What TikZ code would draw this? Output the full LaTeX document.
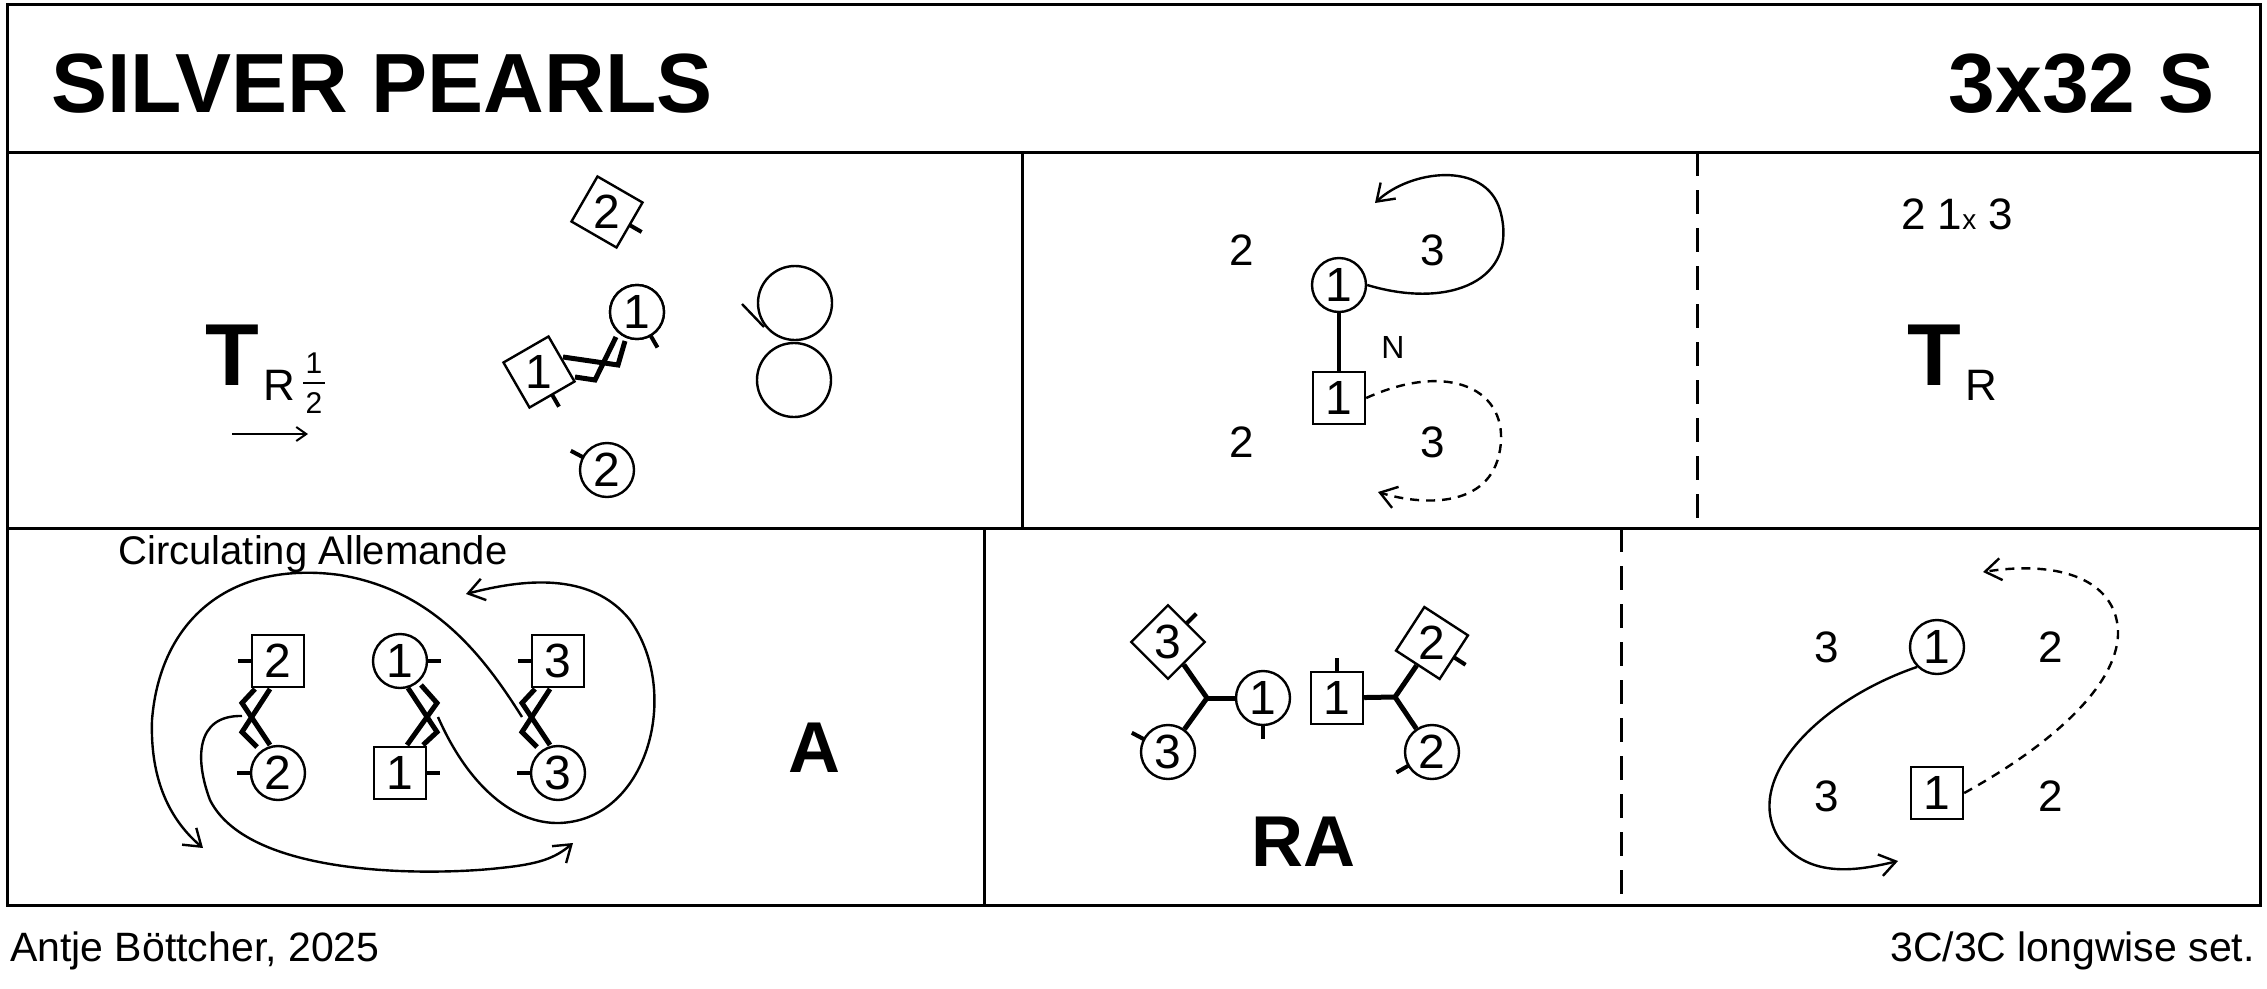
\documentclass[tikz,border=0pt]{standalone}
\usepackage{fontspec}
\setmainfont{Liberation Sans}
\usetikzlibrary{arrows.meta}
\begin{document}
\begin{tikzpicture}[x=1pt,y=1pt,line width=2.4pt,
  dc/.style={circle,draw,fill=white,minimum size=54pt,inner sep=0pt,font=\fontsize{48}{48}\selectfont,line width=2.4pt},
  db/.style={rectangle,draw,fill=white,minimum size=52pt,inner sep=0pt,font=\fontsize{48}{48}\selectfont,line width=2.4pt},
  dnum/.style={font=\fontsize{48}{48}\selectfont,inner sep=0pt},
  nose/.style={line width=4pt},
  hand/.style={line width=5pt},
  lbl/.style={font=\fontsize{44}{44}\selectfont},
  big/.style={font=\fontsize{72}{72}\selectfont\bfseries},
  arr/.style={-{Straight Barb[length=16pt,width=22pt,line width=2.4pt]}},
  dsh/.style={dash pattern=on 9pt off 7pt}]
\useasboundingbox (0,0) rectangle (2267,-988);
\newcommand\nose[3]{\draw[nose] ([shift={(#2:#3)}]#1.center) -- ([shift={(#2:#3+14)}]#1.center);}
% frame
\draw[line width=3pt] (7,-4) rectangle (2260,-905);
\draw[line width=3pt] (7,-152) -- (2260,-152);
\draw[line width=3pt] (7,-528) -- (2260,-528);
\draw[line width=3pt] (1022,-152) -- (1022,-528);
\draw[line width=3pt,dash pattern=on 24pt off 14pt] (1697,-152) -- (1697,-528);
\draw[line width=3pt] (984,-528) -- (984,-905);
\draw[line width=3pt,dash pattern=on 24pt off 14pt] (1621,-528) -- (1621,-905);
\node[anchor=base west,inner sep=0pt,font=\fontsize{84}{84}\selectfont\bfseries] (title) at (50,-112) {SILVER PEARLS};
\node[anchor=base east,inner sep=0pt,font=\fontsize{84}{84}\selectfont\bfseries] (form) at (2216,-112) {3x32 S};
\node[anchor=west,inner sep=0pt,font=\fontsize{41}{41}\selectfont] (auth) at (9,-951) {Antje Böttcher, 2025};
\node[anchor=east,inner sep=0pt,font=\fontsize{41}{41}\selectfont] (set) at (2256,-951) {3C/3C longwise set.};
% panel 1
\node[font=\fontsize{88}{88}\selectfont\bfseries,anchor=base east,inner sep=0pt] (t1) at (260,-385) {T};
\node[font=\fontsize{44}{44}\selectfont,anchor=base west,inner sep=0pt] (t1s) at (262,-400) {R};
\node[font=\fontsize{30}{30}\selectfont,inner sep=0pt] (fn) at (314,-363) {1};
\node[font=\fontsize{30}{30}\selectfont,inner sep=0pt] (fd) at (314,-403) {2};
\draw[line width=2pt] (303,-383) -- (325,-383);
\coordinate (a1) at (232,-434); \coordinate (a2) at (308,-434);
\draw[line width=2pt,-{Straight Barb[length=10pt,width=14pt]}] (a1) -- (a2);
\node[db,rotate=-30] (p1b2) at (607,-212) {}; \nose{p1b2}{-30}{26}
\node[dnum] at (p1b2) {2};
\node[dc] (p1c1) at (637,-312) {1}; \nose{p1c1}{-60}{27}
\node[db,rotate=30] (p1b1) at (539,-372) {}; \nose{p1b1}{-60}{26}
\node[dnum] at (p1b1) {1};
\node[dc] (p1c2) at (607,-470) {2}; \nose{p1c2}{152}{27}
\draw[hand] (563,-357) -- (618,-365) -- (625,-341);
\draw[hand] (575,-377) -- (595,-380) -- (616,-337);
\node[dc] (p1c1) at (637,-312) {1};
\node[circle,draw,minimum size=74pt,inner sep=0pt] (loopa) at (795,-303) {};
\node[circle,draw,minimum size=74pt,inner sep=0pt] (loopb) at (794,-380) {};
\coordinate (lt) at (742,-304);
\draw (lt) -- (764,-327);
% panel 2
\node[lbl] (n2a) at (1242,-250) {2}; \node[lbl] (n3a) at (1433,-250) {3};
\node[lbl] (n2b) at (1242,-442) {2}; \node[lbl] (n3b) at (1433,-442) {3};
\node[dc] (q1) at (1339,-285) {1};
\node[db] (q2) at (1339,-398) {1};
\draw[line width=4pt] (q1) -- (q2);
\node[font=\fontsize{32}{32}\selectfont] (nn) at (1393,-347) {N};
\coordinate (qa) at (1375,-203);
\draw[arr] (q1.east) .. controls (1450,-310) and (1520,-280) .. (1500,-210) .. controls (1485,-160) and (1410,-170) .. (qa);
\coordinate (qb) at (1378,-492);
\draw[arr,dsh] (q2.east) .. controls (1450,-360) and (1510,-390) .. (1500,-450) .. controls (1490,-510) and (1420,-505) .. (qb);
% panel 3
\node[font=\fontsize{44}{44}\selectfont] (cnt) at (1957,-214) {2 1{\fontsize{28}{28}\selectfont x} 3};
\node[font=\fontsize{88}{88}\selectfont\bfseries,anchor=base east,inner sep=0pt] (t2) at (1962,-385) {T};
\node[font=\fontsize{44}{44}\selectfont,anchor=base west,inner sep=0pt] (t2s) at (1964,-400) {R};
% bottom left
\node[font=\fontsize{40}{40}\selectfont] (circ) at (313,-554) {Circulating Allemande};
\coordinate (y0) at (522,-717);
\coordinate (ye) at (203,-848);
\draw[arr] (y0) .. controls (480,-650) and (430,-590) .. (340,-575) .. controls (230,-560) and (160,-620) .. (152,-720) .. controls (150,-780) and (170,-820) .. (ye);
\coordinate (z0) at (438,-717);
\coordinate (ze) at (466,-594);
\draw[arr] (z0) .. controls (470,-790) and (520,-830) .. (570,-822) .. controls (650,-810) and (680,-690) .. (630,-620) .. controls (590,-570) and (520,-580) .. (ze);
\coordinate (x0) at (242,-716);
\coordinate (xe) at (573,-843);
\draw[arr] (x0) .. controls (195,-715) and (195,-760) .. (210,-800) .. controls (250,-880) and (440,-875) .. (500,-868) .. controls (540,-864) and (555,-858) .. (xe);
\foreach \dx in {0,280} {
  \draw[hand] (255+\dx,-689) -- (242+\dx,-703) -- (270+\dx,-745);
  \draw[hand] (270+\dx,-689) -- (242+\dx,-732) -- (257+\dx,-747);
}
\draw[hand] (421,-685) -- (437,-703) -- (407,-745);
\draw[hand] (408,-688) -- (437,-732) -- (423,-745);
\node[db] (r2) at (278,-661) {2}; \nose{r2}{180}{26}
\node[dc] (r2c) at (278,-773) {2}; \nose{r2c}{180}{27}
\node[dc] (r1) at (400,-661) {1}; \nose{r1}{0}{27}
\node[db] (r1b) at (400,-773) {1}; \nose{r1b}{0}{26}
\node[db] (r3) at (558,-661) {3}; \nose{r3}{180}{26}
\node[dc] (r3c) at (558,-773) {3}; \nose{r3c}{180}{27}
\node[big] (A) at (814,-748) {A};
% RA
\coordinate (jl) at (1207,-698); \coordinate (jr) at (1395,-697);
\node[db,rotate=45] (s3) at (1168,-642) {}; \nose{s3}{45}{26}
\node[dc] (s3c) at (1168,-752) {3}; \nose{s3c}{152}{27}
\node[dc] (s1) at (1263,-698) {1}; \nose{s1}{-90}{27}
\node[db] (s1b) at (1337,-698) {1}; \nose{s1b}{90}{26}
\node[db,rotate=-33] (s2) at (1432,-643) {}; \nose{s2}{-33}{26}
\node[dc] (s2c) at (1432,-752) {2}; \nose{s2c}{210}{27}
\draw[hand] (jl) -- (s1); \draw[hand] (jl) -- (s3); \draw[hand] (jl) -- (s3c);
\draw[hand] (jr) -- (s1b); \draw[hand] (jr) -- (s2); \draw[hand] (jr) -- (s2c);
\node[dnum] at (s3) {3};
\node[dnum] at (s2) {2};
\node[big] (RA) at (1303,-842) {RA};
% last
\node[lbl] (u3a) at (1827,-647) {3}; \node[lbl] (u2a) at (2051,-647) {2};
\node[lbl] (u3b) at (1827,-796) {3}; \node[lbl] (u2b) at (2051,-796) {2};
\node[dc] (u1) at (1937,-647) {1};
\node[db] (u1b) at (1937,-793) {1};
\coordinate (ua) at (1898,-861);
\draw[arr] (u1.south west) .. controls (1820,-700) and (1740,-780) .. (1780,-840) .. controls (1810,-880) and (1860,-870) .. (ua);
\coordinate (ub) at (1983,-572);
\draw[arr,dsh] (u1b.east) .. controls (2060,-740) and (2120,-680) .. (2118,-630) .. controls (2115,-580) and (2060,-560) .. (ub);
\end{tikzpicture}
\end{document}
